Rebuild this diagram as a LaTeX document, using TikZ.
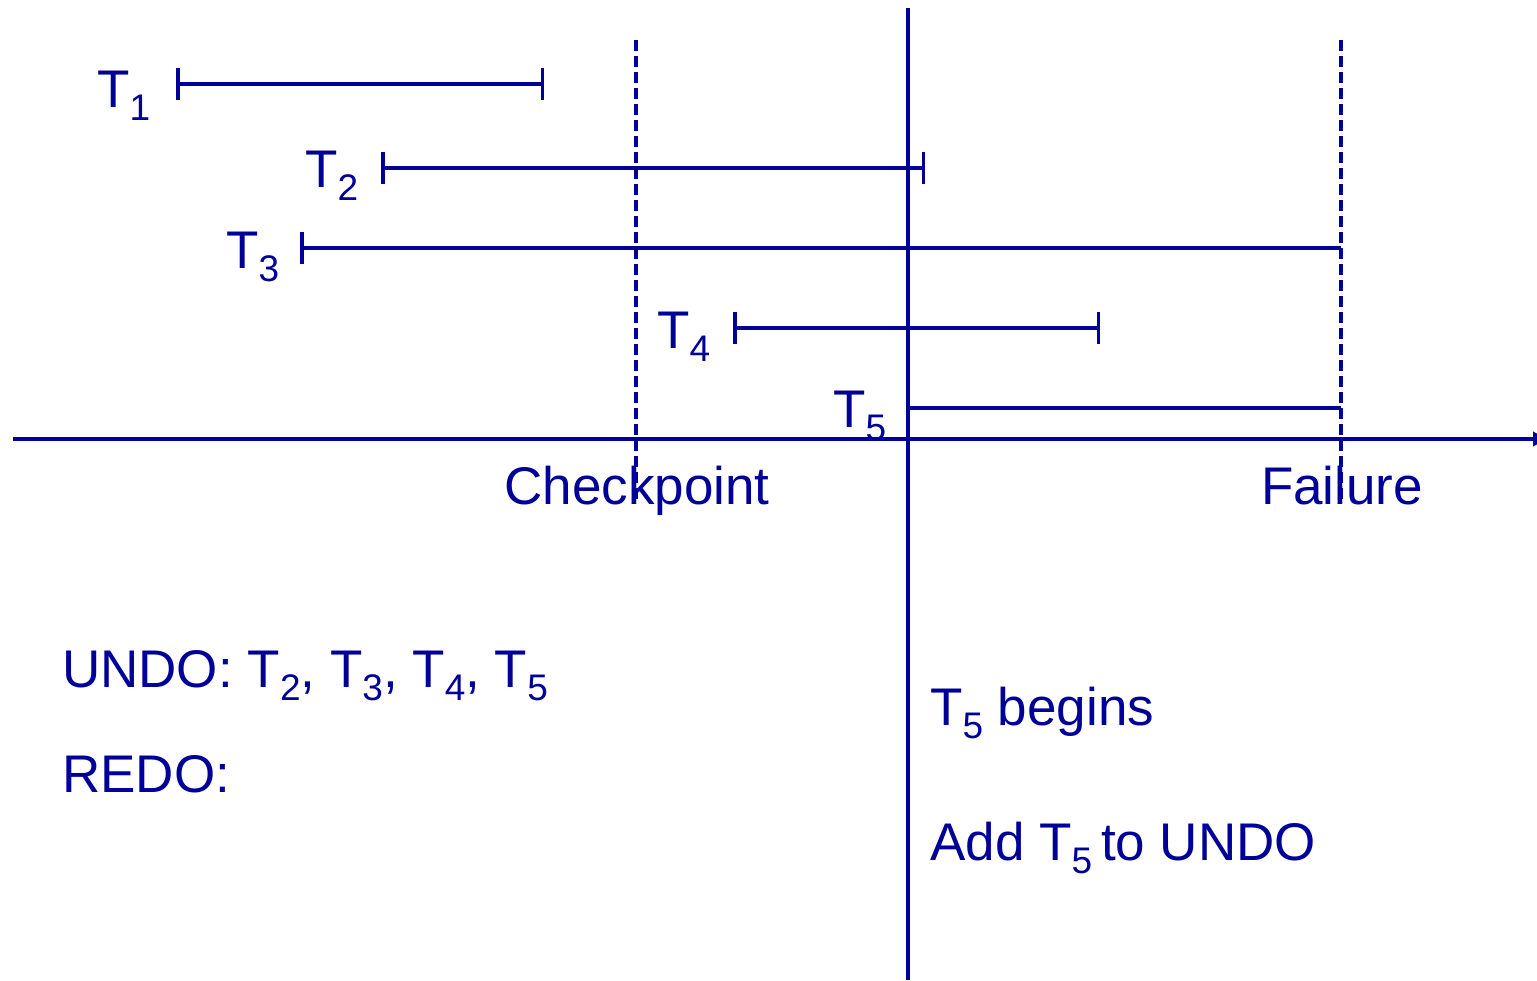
\documentclass[tikz,border=0pt]{standalone}
\usepackage{fontspec}
\setmainfont{Liberation Sans}
\usetikzlibrary{arrows.meta}
\definecolor{dblue}{HTML}{000099}
\newcommand\tsub[1]{\raisebox{-13pt}{\fontsize{37pt}{37pt}\selectfont #1}}
\begin{document}
\begin{tikzpicture}[x=1pt,y=-1pt,
  ln/.style={draw=dblue,line width=3.5pt},
  dsh/.style={draw=dblue,line width=3.5pt,dash pattern=on 11pt off 5pt},
  lbl/.style={text=dblue,inner sep=0pt,anchor=base west,font=\fontsize{53pt}{60pt}\selectfont},
  clbl/.style={lbl,anchor=base},
  bothbar/.style={ln,{Bar[width=32pt]}-{Bar[width=32pt]}},
  startbar/.style={ln,{Bar[width=32pt]}-}]
\useasboundingbox (0,0) rectangle (1537,981);
% labels
\node[lbl] (t1) at (97,108) {T\tsub{1}};
\node[lbl] (t2) at (305,188) {T\tsub{2}};
\node[lbl] (t3) at (226,269) {T\tsub{3}};
\node[lbl] (t4) at (657,349) {T\tsub{4}};
\node[lbl] (t5) at (833,428) {T\tsub{5}};
\node[clbl] (ckpt) at (637,504) {Checkpoint};
\node[clbl] (fail) at (1342,504) {Failure};
\node[lbl] (undo) at (62,687) {UNDO: T\tsub{2}, T\tsub{3}, T\tsub{4}, T\tsub{5}};
\node[lbl] (redo) at (62,792) {REDO:};
\node[lbl] (begins) at (930,725) {T\tsub{5} begins};
\node[lbl] (add) at (930,860) {Add T\tsub{5}\,to UNDO};
% axis and vertical lines
\coordinate (axL) at (13,439);
\coordinate (axR) at (1547,439);
\draw[ln,-{Triangle[length=14pt,width=14pt]}] (axL) -- (axR);
\coordinate (vT) at (908,8);
\coordinate (vB) at (908,980);
\draw[ln] (vT) -- (vB);
\coordinate (cT) at (636,40);
\coordinate (cB) at (636,500);
\draw[dsh] (cT) -- (cB);
\coordinate (fT) at (1341,40);
\coordinate (fB) at (1341,500);
\draw[dsh] (fT) -- (fB);
% transaction spans
\coordinate (s1) at (176,84);  \coordinate (e1) at (544,84);
\coordinate (s2) at (381,168); \coordinate (e2) at (925,168);
\coordinate (s3) at (300,248); \coordinate (e3) at (1341,248);
\coordinate (s4) at (733,328); \coordinate (e4) at (1100,328);
\coordinate (s5) at (908,408); \coordinate (e5) at (1341,408);
\draw[bothbar] (s1) -- (e1);
\draw[bothbar] (s2) -- (e2);
\draw[startbar] (s3) -- (e3);
\draw[bothbar] (s4) -- (e4);
\draw[ln] (s5) -- (e5);
\end{tikzpicture}
\end{document}
